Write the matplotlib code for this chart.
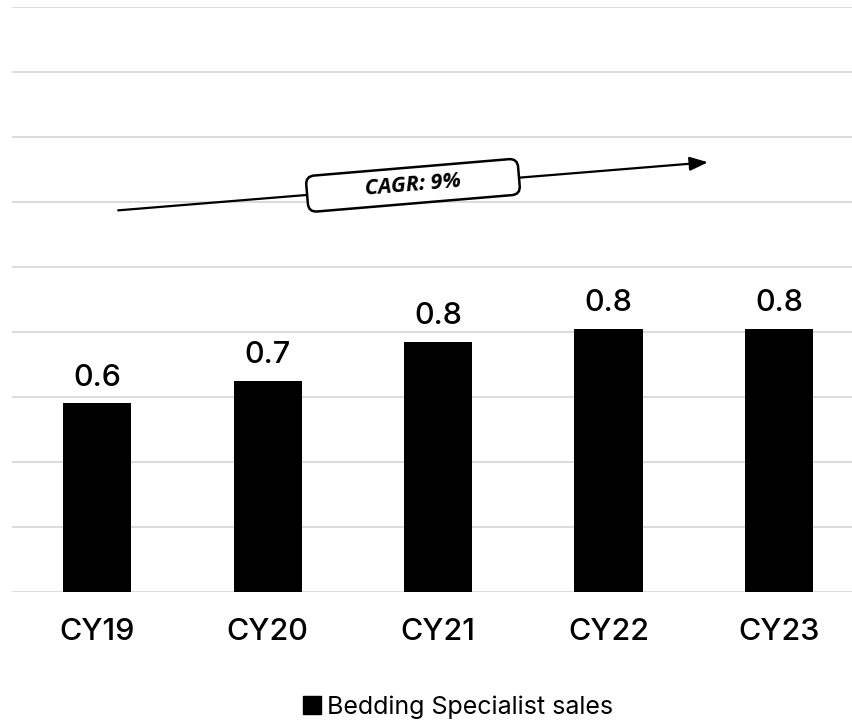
import matplotlib.pyplot as plt
from matplotlib.patches import Patch

# Bedding specialist sales by calendar year
years = ["CY19", "CY20", "CY21", "CY22", "CY23"]
sales = [0.58, 0.65, 0.77, 0.81, 0.81]
cagr_label = "CAGR: 9%"
legend_label = "Bedding Specialist sales"

plt.rcParams["font.family"] = ["Inter", "DejaVu Sans"]

fig = plt.figure(figsize=(8.53, 7.23), dpi=100)
ax = fig.add_axes([12 / 853, 1 - 591.7 / 723, 1 - 12 / 853, (591.7 - 7) / 723])

x = range(len(years))
ax.bar(x, sales, width=0.4, color="black", zorder=3)

# value labels above each bar
for i, v in enumerate(sales):
    ax.annotate(f"{v:.1f}", (i, v), xytext=(0, 8), textcoords="offset points",
                ha="center", va="bottom", fontsize=22, fontweight="medium")

ax.set_ylim(0, 1.8)
ax.set_xlim(-0.5, 4.435)
ax.set_yticks([i * 0.2 for i in range(10)])
ax.yaxis.grid(True, color="#d9d9d9", linewidth=1.3, zorder=0)
ax.set_yticklabels([])
ax.tick_params(axis="y", length=0)
ax.set_xticks(list(x))
ax.set_xticklabels(years, fontsize=22, fontweight="medium")
ax.tick_params(axis="x", length=0, pad=19)
for s in ax.spines.values():
    s.set_visible(False)

# CAGR trend arrow with label box
ax.annotate("", xy=(3.584, 1.322), xytext=(0.123, 1.174),
            arrowprops=dict(arrowstyle="-|>,head_length=1.1,head_width=0.42",
                            color="black", lw=1.6, shrinkA=0, shrinkB=0), zorder=4)
pad_spaces = " " * 9
ax.text(1.853, 1.251, pad_spaces + cagr_label + pad_spaces, ha="center", va="center",
        rotation=4.8, rotation_mode="anchor", fontsize=15.5, fontweight="bold",
        fontstyle="italic", family=["Open Sans", "DejaVu Sans"], zorder=5,
        bbox=dict(boxstyle="round,pad=0.35,rounding_size=0.4", fc="white",
                  ec="black", lw=1.8))

fig.legend(handles=[Patch(color="black", label=legend_label)], loc="center",
           bbox_to_anchor=(458 / 853, 1 - 707 / 723), frameon=False,
           fontsize=18, handlelength=0.7, handleheight=0.7, handletextpad=0.25)

fig.savefig("out.png", dpi=100)
